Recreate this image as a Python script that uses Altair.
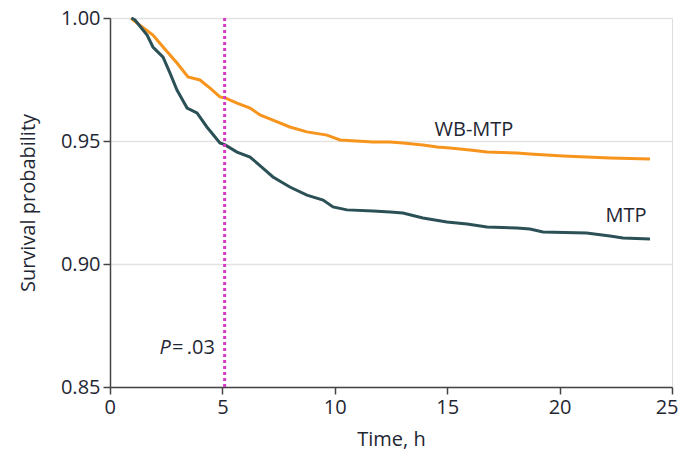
import altair as alt
import pandas as pd

# WB-MTP (orange)
wb_t = [0.95, 1.02, 1.91, 2.36, 2.98, 3.47, 4.0, 4.45, 4.89, 5.12, 5.65, 6.23, 6.67, 7.25, 8.0, 8.76,
        9.65, 10.23, 11.7, 12.46, 13.03, 13.92, 14.55, 15.12, 16.01, 16.77, 18.1, 18.68, 20.15, 22.24, 24.02]
wb_s = [1.0, 0.9992, 0.9931, 0.9882, 0.9817, 0.9760, 0.9748, 0.9715, 0.9679, 0.9675, 0.9654, 0.9634,
        0.9606, 0.9585, 0.9557, 0.9537, 0.9524, 0.9504, 0.9496, 0.9496, 0.9492, 0.9484, 0.9476, 0.9472,
        0.9463, 0.9455, 0.9451, 0.9447, 0.9439, 0.9431, 0.9427]

# MTP (dark teal)
mtp_t = [0.95, 1.11, 1.65, 1.91, 2.36, 2.67, 2.98, 3.43, 3.87, 4.31, 4.89, 5.12, 5.65, 6.23, 6.8, 7.25,
         8.0, 8.76, 9.48, 9.92, 10.54, 11.7, 12.46, 13.03, 13.92, 14.99, 15.88, 16.77, 18.1, 18.68,
         19.26, 21.2, 22.24, 22.82, 24.02]
mtp_s = [1.0, 0.9992, 0.9931, 0.9882, 0.9841, 0.9776, 0.9707, 0.9634, 0.9614, 0.9557, 0.9492, 0.9484,
         0.9455, 0.9435, 0.939, 0.9354, 0.9313, 0.9280, 0.9260, 0.9232, 0.9220, 0.9215, 0.9211, 0.9207,
         0.9187, 0.9171, 0.9163, 0.9150, 0.9146, 0.9142, 0.9130, 0.9126, 0.9114, 0.9106, 0.9102]

groups = ["WB-MTP", "MTP"]
colors = ["#F7941D", "#2B5157"]

vline_t = [5.1]

label_text = ["WB-MTP", "MTP"]
label_t = [16.19, 22.95]
label_s = [0.9545, 0.9195]

p_t = [2.71, 2.76]
p_s = [0.8659, 0.8659]
p_text = ["P", "=\u2009.03"]

x_ticks = [0, 5, 10, 15, 20, 25]
y_ticks = [0.85, 0.90, 0.95, 1.00]

FONT = "Open Sans"
FS = 20
TXT = "#1f2733"

df = pd.concat([
    pd.DataFrame({"t": wb_t, "s": wb_s, "g": groups[0], "o": range(len(wb_t))}),
    pd.DataFrame({"t": mtp_t, "s": mtp_s, "g": groups[1], "o": range(len(mtp_t))}),
])

xscale = alt.Scale(domain=[0, 25], nice=False)
yscale = alt.Scale(domain=[0.85, 1.0], nice=False, zero=False)

base_x = alt.X("t:Q", scale=xscale,
               axis=alt.Axis(values=x_ticks, title="Time, h", grid=False, format="d",
                             labelFlush=True, labelFlushOffset=6,
                             labelFont=FONT, labelFontSize=FS, labelColor=TXT,
                             titleFont=FONT, titleFontSize=FS, titleColor=TXT, titleFontWeight="normal",
                             domainColor="#444", tickColor="#444", tickSize=7, domainWidth=1.5,
                             tickWidth=1.5, labelPadding=3, titlePadding=12))
base_y = alt.Y("s:Q", scale=yscale,
               axis=alt.Axis(values=y_ticks, title="Survival probability", format=".2f", labelFlush=False,
                             grid=True, gridColor="#e3e3e3", gridWidth=1.5,
                             labelFont=FONT, labelFontSize=FS, labelColor=TXT,
                             titleFont=FONT, titleFontSize=FS, titleColor=TXT, titleFontWeight="normal",
                             domainColor="#444", tickColor="#444", tickSize=7, domainWidth=1.5,
                             tickWidth=1.5, labelPadding=3, titlePadding=22))

lines = alt.Chart(df).mark_line(strokeWidth=3, interpolate="linear").encode(
    x=base_x, y=base_y,
    color=alt.Color("g:N", scale=alt.Scale(domain=groups, range=colors), legend=None),
    order="o:Q",
)

vdf = pd.DataFrame({"t": vline_t, "y1": [0.85], "y2": [1.0]})
vline = alt.Chart(vdf).mark_rule(color="#D63AC4", strokeWidth=3, strokeDash=[3, 3]).encode(
    x=alt.X("t:Q", scale=xscale), y=alt.Y("y1:Q", scale=yscale), y2="y2:Q"
)

ldf = pd.DataFrame({"t": label_t, "s": label_s, "txt": label_text})
labels = alt.Chart(ldf).mark_text(font=FONT, fontSize=FS, color=TXT, baseline="middle").encode(
    x=alt.X("t:Q", scale=xscale), y=alt.Y("s:Q", scale=yscale), text="txt:N"
)

p1 = alt.Chart(pd.DataFrame({"t": [p_t[0]], "s": [p_s[0]], "txt": [p_text[0]]})).mark_text(
    font=FONT, fontSize=FS, color=TXT, fontStyle="italic", align="right", baseline="middle").encode(
    x=alt.X("t:Q", scale=xscale), y=alt.Y("s:Q", scale=yscale), text="txt:N")
p2 = alt.Chart(pd.DataFrame({"t": [p_t[1]], "s": [p_s[1]], "txt": [p_text[1]]})).mark_text(
    font=FONT, fontSize=FS, color=TXT, align="left", baseline="middle").encode(
    x=alt.X("t:Q", scale=xscale), y=alt.Y("s:Q", scale=yscale), text="txt:N")

chart = alt.layer(lines, vline, labels, p1, p2).properties(
    width=562, height=369,
    autosize=alt.AutoSizeParams(type="none"),
    padding={"left": 102, "top": 10, "right": 7, "bottom": 65},
).configure_view(stroke=None).configure(background="white")

chart.save("out.html", embed_options={"renderer": "svg", "actions": False})
